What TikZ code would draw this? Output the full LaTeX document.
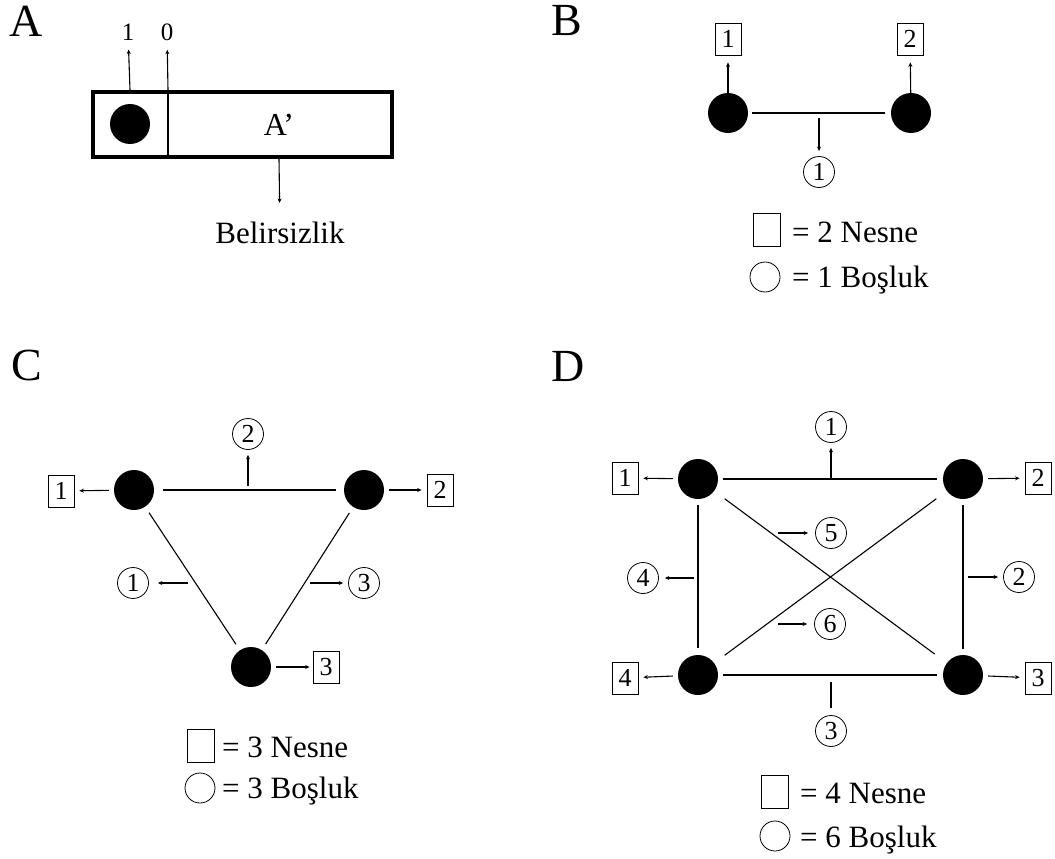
\documentclass[tikz,border=0pt]{standalone}
\usepackage{fontspec}
\setmainfont{Liberation Serif}
\usepackage{tikz}
\usetikzlibrary{arrows.meta,positioning}

\newcommand{\fsz}[1]{\fontsize{#1}{#1}\selectfont}

\begin{document}
\begin{tikzpicture}[x=1pt, y=-1pt,
    dot/.style={circle, fill=black, minimum size=40pt, inner sep=0pt},
    obj/.style={draw, line width=0.8pt, minimum width=26pt, minimum height=32pt, inner sep=0pt, font=\fsz{26}},
    gap/.style={circle, draw, line width=0.8pt, minimum size=31pt, inner sep=0pt, font=\fsz{26}},
    legobj/.style={draw, line width=0.8pt, minimum width=27pt, minimum height=33pt, inner sep=0pt},
    leggap/.style={circle, draw, line width=0.8pt, minimum size=30pt, inner sep=0pt},
    panel/.style={font=\fsz{46}, anchor=base},
    legtext/.style={font=\fsz{31}, anchor=base west, inner sep=0pt},
    edge/.style={line width=1.1pt, shorten <=7pt, shorten >=7pt},
    tip/.style={line width=1.1pt, -{Stealth[length=4.5pt,width=4pt]}, shorten >=5pt},
    outarrow/.style={tip, shorten <=5pt}]
    \useasboundingbox (0,0) rectangle (1055,859);

    % A - kutu
    \node[panel] at (26,37) {A};
    \draw[line width=4.5pt] (93,92) rectangle (392,157);
    \draw[line width=2pt] (168,92) -- (168,157);
    \node[dot] (bit) at (130,124) {};
    \node[font=\fsz{32}, anchor=base] (ap) at (279,135) {A’};
    \node[font=\fsz{25}, anchor=base] (one) at (128,41) {1};
    \node[font=\fsz{25}, anchor=base] (zero) at (167,41) {0};
    \node[font=\fsz{31}, anchor=base] (bel) at (280,243) {Belirsizlik};
    \coordinate (t1) at (130,90);
    \coordinate (t0) at (168,90);
    \coordinate (tb) at (279,159);
    \draw[tip] (t1) -- (one);
    \draw[tip] (t0) -- (zero);
    \draw[tip, shorten >=15pt] (tb) -- (bel);

    % B - 2 nesne
    \node[panel] at (567,36) {B};
    \node[dot] (b1) at (728,113) {};
    \node[dot] (b2) at (911,113) {};
    \node[obj] (bq1) at (728,39) {1};
    \node[obj] (bq2) at (910,39) {2};
    \node[gap] (bg1) at (819,172) {1};
    \draw[edge, shorten <=4pt, shorten >=6pt] (b1) -- (b2);
    \draw[tip, shorten >=7pt] (b1) -- (bq1);
    \draw[tip, shorten >=7pt] (b2) -- (bq2);
    \coordinate (be1) at (819,118);
    \draw[tip] (be1) -- (bg1);
    \node[legobj] (lbq) at (767,230) {};
    \node[legtext] at (792,242) {= 2 Nesne};
    \node[leggap] (lbg) at (765,277) {};
    \node[legtext] at (792,287) {= 1 Boşluk};

    % C - 3 nesne
    \node[panel] at (27,380) {C};
    \node[dot] (c1) at (134,490) {};
    \node[dot] (c2) at (364,490) {};
    \node[dot] (c3) at (251,667) {};
    \node[obj] (cq1) at (61,491) {1};
    \node[obj] (cq2) at (440,490) {2};
    \node[obj] (cq3) at (326,667) {3};
    \node[gap] (cg1) at (133,583) {1};
    \node[gap] (cg2) at (248,434) {2};
    \node[gap] (cg3) at (364,583) {3};
    \draw[edge, shorten <=9pt, shorten >=8pt] (c1) -- (c2);
    \draw[edge] (c1) -- (c3);
    \draw[edge] (c2) -- (c3);
    \draw[outarrow] (c1) -- (cq1);
    \draw[outarrow] (c2) -- (cq2);
    \draw[outarrow, shorten >=3pt] (c3) -- (cq3);
    \coordinate (ce1) at (188,583);
    \coordinate (ce2) at (248,486);
    \coordinate (ce3) at (310,583);
    \draw[tip, shorten >=9pt] (ce1) -- (cg1);
    \draw[tip] (ce2) -- (cg2);
    \draw[tip] (ce3) -- (cg3);
    \node[legobj] (lcq) at (201,746) {};
    \node[legtext] at (222,757) {= 3 Nesne};
    \node[leggap] (lcg) at (200,788) {};
    \node[legtext] at (222,798) {= 3 Boşluk};

    % D - 4 nesne
    \node[panel] at (568,381) {D};
    \node[dot] (d1) at (698,479) {};
    \node[dot] (d2) at (963,479) {};
    \node[dot] (d3) at (963,675) {};
    \node[dot] (d4) at (698,675) {};
    \node[obj] (dq1) at (625,478) {1};
    \node[obj] (dq2) at (1038,478) {2};
    \node[obj] (dq3) at (1038,678) {3};
    \node[obj] (dq4) at (625,678) {4};
    \node[gap] (dg1) at (831,427) {1};
    \node[gap] (dg2) at (1019,577) {2};
    \node[gap] (dg3) at (831,731) {3};
    \node[gap] (dg4) at (643,578) {4};
    \node[gap] (dg5) at (831,533) {5};
    \node[gap] (dg6) at (830,624) {6};
    \draw[edge, shorten <=5pt, shorten >=6pt] (d1) -- (d2);
    \draw[edge, shorten <=6pt, shorten >=6pt] (d2) -- (d3);
    \draw[edge, shorten <=6pt, shorten >=5pt] (d3) -- (d4);
    \draw[edge, shorten <=7pt, shorten >=6pt] (d4) -- (d1);
    \draw[edge, shorten <=13pt, shorten >=15pt] (d1) -- (d3);
    \draw[edge, shorten <=13pt, shorten >=13pt] (d2) -- (d4);
    \draw[outarrow] (d1) -- (dq1);
    \draw[outarrow] (d2) -- (dq2);
    \draw[outarrow] (d3) -- (dq3);
    \draw[outarrow] (d4) -- (dq4);
    \coordinate (de1) at (831,479);
    \coordinate (de2) at (968,577);
    \coordinate (de3) at (831,682);
    \coordinate (de4) at (694,578);
    \coordinate (de5) at (778,533);
    \coordinate (de6) at (778,624);
    \draw[tip] (de1) -- (dg1);
    \draw[tip] (de2) -- (dg2);
    \draw[line width=1.1pt, shorten >=7pt] (de3) -- (dg3);
    \draw[tip, shorten >=6pt] (de4) -- (dg4);
    \draw[tip, shorten >=7pt] (de5) -- (dg5);
    \draw[tip, shorten >=7pt] (de6) -- (dg6);
    \node[legobj] (ldq) at (775,792) {};
    \node[legtext] at (800,803) {= 4 Nesne};
    \node[leggap] (ldg) at (775,836) {};
    \node[legtext] at (800,847) {= 6 Boşluk};
\end{tikzpicture}
\end{document}
